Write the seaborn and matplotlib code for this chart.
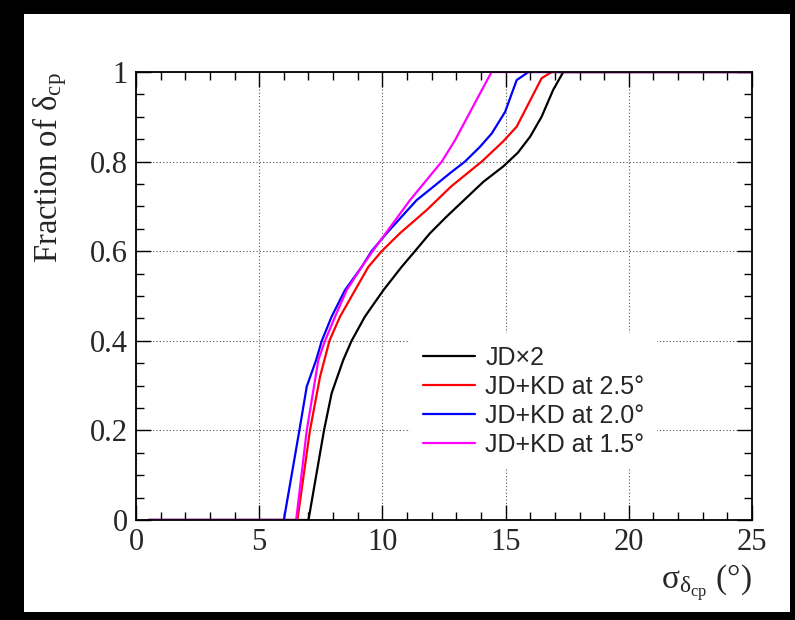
import numpy as np
import pandas as pd
import matplotlib
matplotlib.use("Agg")
import matplotlib.pyplot as plt
import seaborn as sns
from matplotlib.patches import Rectangle
from matplotlib.ticker import MultipleLocator

# data
jd2_x = [0.5, 7.0, 7.63, 7.94, 8.41, 8.75, 9.29, 10.04, 10.78, 11.32, 11.93, 12.6, 14.1, 14.9, 15.5, 16.0, 16.46, 16.93, 17.34, 25]
jd2_y = [0, 0, 0.2, 0.283, 0.357, 0.4, 0.454, 0.513, 0.565, 0.6, 0.64, 0.677, 0.755, 0.789, 0.82, 0.856, 0.9, 0.96, 1, 1]

kd25_x = [0.5, 6.55, 7.06, 7.47, 7.85, 8.28, 8.89, 9.43, 9.97, 10.71, 11.8, 12.8, 14.03, 14.9, 15.45, 16.46, 16.87, 25]
kd25_y = [0, 0, 0.2, 0.32, 0.4, 0.454, 0.513, 0.565, 0.6, 0.64, 0.692, 0.745, 0.8, 0.845, 0.878, 0.986, 1, 1]

kd20_x = [0.5, 6.0, 6.63, 6.93, 7.31, 7.54, 7.94, 8.48, 9.16, 9.56, 10.17, 11.39, 12.07, 12.74, 13.35, 13.96, 14.44, 14.98, 15.45, 15.93, 25]
kd20_y = [0, 0, 0.2, 0.298, 0.357, 0.4, 0.454, 0.513, 0.565, 0.6, 0.64, 0.714, 0.744, 0.774, 0.8, 0.833, 0.863, 0.911, 0.982, 1, 1]

kd15_x = [0.5, 6.5, 6.93, 7.4, 7.67, 8.08, 8.55, 9.16, 9.6, 11.12, 12.41, 12.95, 13.96, 14.43, 25]
kd15_y = [0, 0, 0.2, 0.357, 0.4, 0.454, 0.513, 0.565, 0.6, 0.714, 0.8, 0.848, 0.952, 1, 1]

labels = ["JD\u00d72", "JD+KD at 2.5\u00b0", "JD+KD at 2.0\u00b0", "JD+KD at 1.5\u00b0"]
colors = ["black", "#ff0000", "#0000ff", "#ff00ff"]

df = pd.concat([
    pd.DataFrame({"x": jd2_x, "y": jd2_y, "series": labels[0]}),
    pd.DataFrame({"x": kd25_x, "y": kd25_y, "series": labels[1]}),
    pd.DataFrame({"x": kd20_x, "y": kd20_y, "series": labels[2]}),
    pd.DataFrame({"x": kd15_x, "y": kd15_y, "series": labels[3]}),
])

sns.set_style("ticks")
plt.rcParams["font.family"] = ["Liberation Serif", "DejaVu Serif"]
plt.rcParams["mathtext.fontset"] = "custom"
plt.rcParams["mathtext.rm"] = "Liberation Serif"
plt.rcParams["mathtext.it"] = "Liberation Serif:italic"

fig = plt.figure(figsize=(7.95, 6.2), dpi=100)
fig.patch.set_facecolor("black")
# white canvas inside the black border
fig.add_artist(Rectangle((24 / 795, 8 / 620), 766 / 795, 598 / 620,
                         transform=fig.transFigure, facecolor="white",
                         edgecolor="none", zorder=-10))
ax = fig.add_axes([136 / 795, 100 / 620, 616 / 795, 448 / 620])
ax.set_facecolor("white")

sns.lineplot(data=df, x="x", y="y", hue="series", hue_order=labels,
             palette=colors, sort=False, estimator=None, linewidth=1.6, ax=ax)

ax.set_xlim(0, 25)
ax.set_ylim(0, 1)
ax.xaxis.set_major_locator(MultipleLocator(5))
ax.xaxis.set_minor_locator(MultipleLocator(1))
ax.yaxis.set_minor_locator(MultipleLocator(0.05))
ax.set_yticks([0, 0.2, 0.4, 0.6, 0.8, 1.0])
ax.set_yticklabels(["0", "0.2", "0.4", "0.6", "0.8", "1"])
ax.tick_params(which="both", direction="in", top=True, right=True,
               labelsize=22, color="black", pad=6)
ax.tick_params(which="major", length=11, width=1)
ax.tick_params(which="minor", length=5.5, width=1)
ax.grid(True, which="major", color="#555555", linestyle=(0, (1, 2)), linewidth=0.8)
for s in ax.spines.values():
    s.set_linewidth(1.3)
    s.set_color("black")

ax.set_ylabel("Fraction of \u03b4$_{\\rm cp}$", fontsize=23.5, loc="top")
ax.yaxis.set_label_coords(-0.109, 1.0)
ax.set_xlabel("\u03c3$_{\\mathrm{\u03b4}_{\\rm cp}}$ (\u00b0)", fontsize=24, loc="right")
ax.xaxis.set_label_coords(1.0, -0.095)

leg = ax.legend(loc="upper left", bbox_to_anchor=(0.445, 0.417), borderaxespad=0,
                borderpad=0.5, handlelength=2.1, handletextpad=0.4, labelspacing=0.2,
                frameon=True, fancybox=False, framealpha=1, facecolor="white",
                edgecolor="none", prop={"family": "Liberation Sans", "size": 18})
for line in leg.get_lines():
    line.set_linewidth(1.6)

fig.savefig("out.png", dpi=100, facecolor=fig.get_facecolor())
